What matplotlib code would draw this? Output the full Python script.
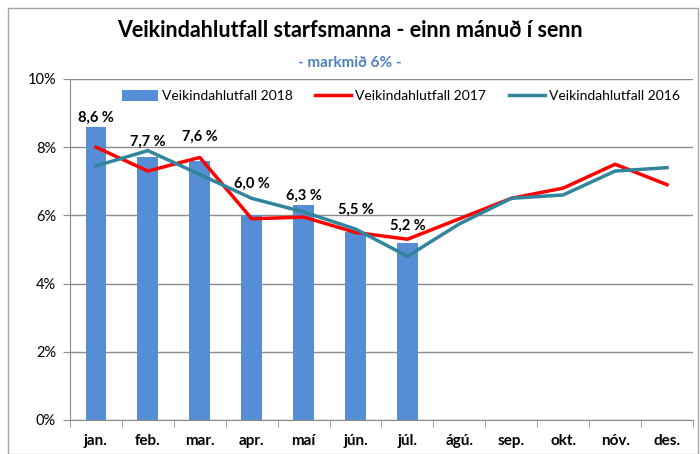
import numpy as np
import matplotlib
matplotlib.use("Agg")
import matplotlib.pyplot as plt
from matplotlib.patches import Rectangle

plt.rcParams['font.family'] = ['Lato', 'DejaVu Sans']

months = ['jan.', 'feb.', 'mar.', 'apr.', 'maí', 'jún.', 'júl.',
          'ágú.', 'sep.', 'okt.', 'nóv.', 'des.']
v2018 = [8.6, 7.7, 7.6, 6.0, 6.3, 5.5, 5.2]
v2017 = [8.0, 7.3, 7.7, 5.9, 5.95, 5.5, 5.3, 5.9, 6.5, 6.8, 7.5, 6.9]
v2016 = [7.45, 7.9, 7.2, 6.5, 6.1, 5.6, 4.8, 5.75, 6.5, 6.6, 7.3, 7.4]
# where excel dropped the data labels (y in %)
label_y = [8.85, 8.17, 8.31, 6.94, 6.57, 6.16, 5.69]

fig = plt.figure(figsize=(7, 4.54), dpi=100)
ax = fig.add_axes([0.1, 0.075, 0.89, 0.751])

x = np.arange(len(months))
x18 = np.arange(len(v2018))

b = ax.bar(x18, v2018, width=0.4, color='#558ED5', zorder=2,
           label='Veikindahlutfall 2018')
l17, = ax.plot(x, v2017, color='#FF0000', lw=2.5, zorder=3,
               label='Veikindahlutfall 2017')
l16, = ax.plot(x, v2016, color='#31859C', lw=2.5, zorder=4,
               label='Veikindahlutfall 2016')

for xi, v, ly in zip(x18, v2018, label_y):
    ax.text(xi, ly, ('%.1f %%' % v).replace('.', ','), ha='center',
            va='center', fontsize=10.5, fontweight='bold', zorder=5)

ax.set_xlim(-0.5, len(months) - 0.5)
ax.set_ylim(0, 10)
ax.set_yticks(np.arange(0, 11, 2))
ax.set_yticklabels(['%d%%' % t for t in range(0, 11, 2)], fontsize=10.5)
ax.yaxis.grid(True, color='#8c8c8c', lw=1.0, zorder=0)
ax.tick_params(axis='y', length=5, color='#8c8c8c', pad=5)

ax.set_xticks(x)
ax.set_xticklabels(months, fontsize=11, fontweight='bold')
ax.set_xticks(np.arange(-0.5, len(months)), minor=True)
ax.tick_params(axis='x', which='major', length=0, pad=10)
ax.tick_params(axis='x', which='minor', length=5, color='#8c8c8c')

for s in ['top', 'right']:
    ax.spines[s].set_visible(False)
for s in ['left', 'bottom']:
    ax.spines[s].set_color('#8c8c8c')

ax.legend(handles=[b, l17, l16], loc='center', bbox_to_anchor=(0.531, 0.95),
          ncol=3, frameon=False, fontsize=10, handlelength=2.6,
          handleheight=0.8, handletextpad=0.3, columnspacing=1.6,
          borderaxespad=0, borderpad=0)

fig.text(0.5, 0.932, 'Veikindahlutfall starfsmanna - einn mánuð í senn',
         ha='center', va='center', fontsize=15.5, fontweight='bold')
fig.text(0.5, 0.862, '- markmið 6% -', ha='center', va='center',
         fontsize=11, fontweight='bold', color='#4F81BD')

fig.patches.append(Rectangle((0.012, 0.0), 0.985, 0.982,
                             transform=fig.transFigure, fill=False,
                             edgecolor='#a6a6a6', lw=1.0))

fig.savefig('out.png', dpi=100)
